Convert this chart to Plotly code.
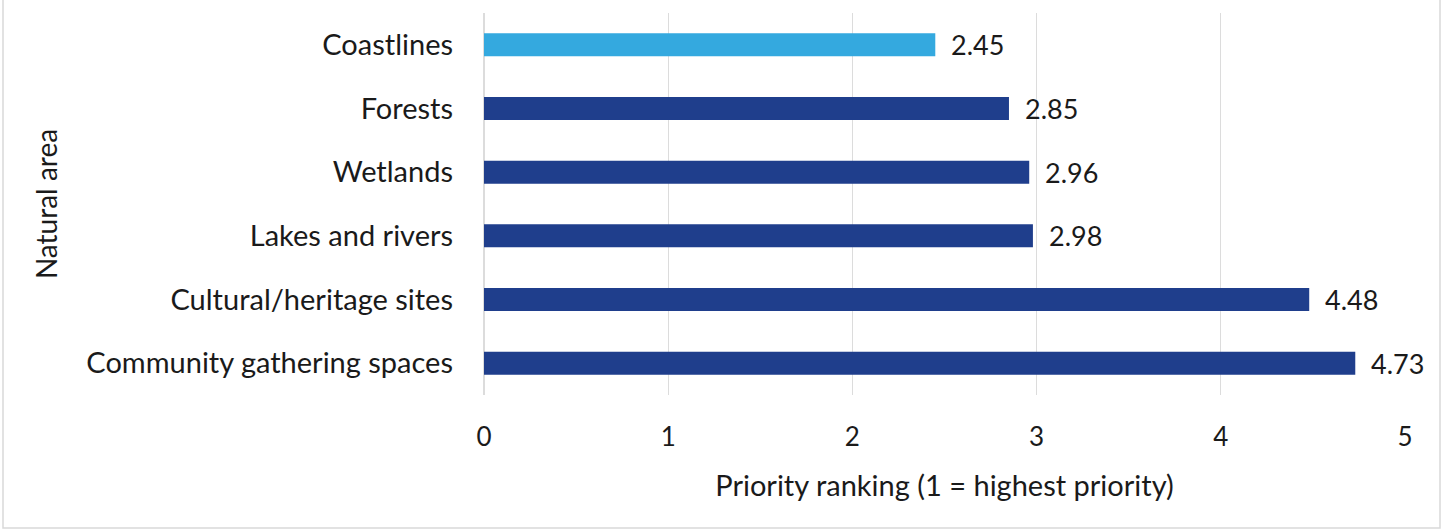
import plotly.graph_objects as go

# Priority ranking of natural areas (1 = highest priority)
areas = ["Coastlines", "Forests", "Wetlands", "Lakes and rivers",
         "Cultural/heritage sites", "Community gathering spaces"]
rankings = [2.45, 2.85, 2.96, 2.98, 4.48, 4.73]
bar_colors = ["#34A9DF", "#1F3E8C", "#1F3E8C", "#1F3E8C", "#1F3E8C", "#1F3E8C"]
x_ticks = [0, 1, 2, 3, 4, 5]

FONT = "Lato, Calibri, Carlito, sans-serif"
TEXT = "#1a1a1a"

fig = go.Figure(
    go.Bar(
        x=rankings,
        y=areas,
        orientation="h",
        marker=dict(color=bar_colors, line=dict(width=0)),
        width=0.36,
        cliponaxis=False,
    )
)

# value labels just right of each bar end
for area, value in zip(areas, rankings):
    fig.add_annotation(
        x=value, y=area, text=f"{value:.2f}",
        xanchor="left", yanchor="middle", xshift=14, showarrow=False,
        font=dict(size=27, color=TEXT, family=FONT),
    )

fig.update_layout(
    width=1445,
    height=531,
    margin=dict(l=484, r=40, t=13, b=136),
    paper_bgcolor="white",
    plot_bgcolor="white",
    showlegend=False,
    font=dict(family=FONT, color=TEXT),
    xaxis=dict(
        range=[0, 5],
        tickvals=x_ticks,
        ticktext=[str(t) for t in x_ticks],
        tickfont=dict(size=26),
        showgrid=True,
        gridcolor="#DCDCDC",
        gridwidth=1,
        zeroline=True,
        zerolinecolor="#DCDCDC",
        ticks="",
        ticklabelstandoff=24,
        title=dict(text="Priority ranking (1 = highest priority)",
                   font=dict(size=29), standoff=24),
    ),
    yaxis=dict(
        autorange="reversed",
        tickfont=dict(size=29),
        ticks="",
        showgrid=False,
        ticklabelstandoff=30,
        title=dict(text="Natural area", font=dict(size=28), standoff=20),
    ),
    shapes=[
        dict(type="rect", xref="paper", yref="paper",
             x0=-484 / 921 + 3 / 921, x1=1 + 35 / 921,
             y0=-133 / 382, y1=1 + 30 / 382,
             line=dict(color="#D9D9D9", width=1.5), layer="below"),
    ],
)

fig.write_html("out.html")
